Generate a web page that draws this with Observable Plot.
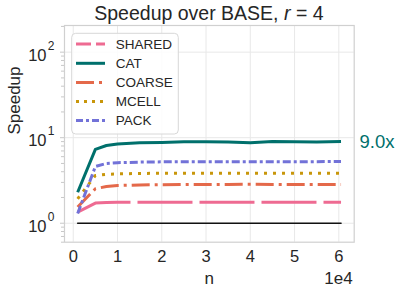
<!DOCTYPE html>
<html>
<head>
<meta charset="utf-8">
<script src="https://cdn.jsdelivr.net/npm/d3@7"></script>
<script src="https://cdn.jsdelivr.net/npm/@observablehq/plot@0.6"></script>
<style>
  html, body { margin: 0; padding: 0; background: #fff; }
  #chart { position: relative; width: 399px; height: 293px; overflow: hidden; }
</style>
</head>
<body>
<div id="chart"></div>
<script>
// ---- data ----
const nValues = [1000, 5000, 7500, 10000, 15000, 20000, 25000, 30000, 35000, 40000, 45000, 50000, 55000, 60500];
const sharedValues = [1.35, 1.72, 1.75, 1.76, 1.76, 1.76, 1.76, 1.76, 1.76, 1.76, 1.76, 1.76, 1.76, 1.76];
const catValues    = [2.3, 7.3, 8.1, 8.45, 8.7, 8.8, 8.95, 8.95, 8.9, 8.7, 9.05, 8.95, 8.9, 9.0];
const coarseValues = [1.55, 2.53, 2.69, 2.76, 2.8, 2.82, 2.84, 2.84, 2.84, 2.85, 2.84, 2.84, 2.84, 2.84];
const mcellValues  = [1.93, 3.62, 3.72, 3.78, 3.82, 3.84, 3.85, 3.85, 3.85, 3.85, 3.85, 3.85, 3.85, 3.85];
const packValues   = [1.3, 4.6, 5.0, 5.1, 5.18, 5.22, 5.25, 5.25, 5.25, 5.25, 5.25, 5.22, 5.25, 5.28];
const baseValues   = [1, 1, 1, 1, 1, 1, 1, 1, 1, 1, 1, 1, 1, 1];

const seriesNames = ["SHARED", "CAT", "COARSE", "MCELL", "PACK"];
const xTicks = [0, 10000, 20000, 30000, 40000, 50000, 60000];
const xTickLabels = ["0", "1", "2", "3", "4", "5", "6"];
const yTicks = [1, 10, 100];
const yExponents = ["0", "1", "2"];
const yMinor = [0.6, 0.7, 0.8, 0.9, 2, 3, 4, 5, 6, 7, 8, 9, 20, 30, 40, 50, 60, 70, 80, 90, 200];
const finalLabel = "9.0x";

// ---- styles ----
const styles = {
  SHARED: {color: "#ee6b92", dash: "55,7", legendDash: "15,5"},
  CAT:    {color: "#00706c", dash: null, legendDash: null},
  COARSE: {color: "#e4694a", dash: "18,5,3,5", legendDash: "18,5,3,5"},
  MCELL:  {color: "#c8960a", dash: "3,6", legendDash: "3,5"},
  PACK:   {color: "#7272d8", dash: "8,3,3,3", legendDash: "7,3,3,3"}
};
const valuesByName = {SHARED: sharedValues, CAT: catValues, COARSE: coarseValues, MCELL: mcellValues, PACK: packValues};
const rows = name => nValues.map((n, i) => ({n, v: valuesByName[name][i]}));
const baseRows = nValues.map((n, i) => ({n, v: baseValues[i]}));

const FONT = "Liberation Sans, Arial, Helvetica, sans-serif";
const TXT = "#262626";

const lineMarks = seriesNames.map(name => Plot.line(rows(name), {
  x: "n", y: "v", stroke: styles[name].color, strokeWidth: 3,
  strokeDasharray: styles[name].dash || undefined,
  strokeLinecap: "butt", strokeLinejoin: "round", curve: "linear"
}));

const catRows = rows("CAT");
const plot = Plot.plot({
  width: 399, height: 293,
  marginLeft: 64, marginRight: 45.3, marginTop: 25, marginBottom: 51.3,
  style: {fontFamily: FONT, color: TXT, background: "white", overflow: "visible"},
  x: {domain: [-1975, 63475]},
  y: {type: "log", domain: [0.6, 205]},
  marks: [
    Plot.gridX({ticks: xTicks, stroke: "#e8e8e8", strokeOpacity: 1, strokeWidth: 1}),
    Plot.gridY({ticks: yTicks, stroke: "#e8e8e8", strokeOpacity: 1, strokeWidth: 1}),
    Plot.axisX({ticks: [], label: null, tickSize: 0}),
    Plot.axisY({ticks: yMinor, tickSize: 3, tickFormat: () => "", label: null, stroke: "#c8c8c8"}),
    Plot.axisY({ticks: yTicks, tickSize: 4, tickFormat: () => "", label: null, stroke: "#c8c8c8"}),
    Plot.frame({stroke: "#d0d0d0", strokeWidth: 1.2}),
    Plot.line(baseRows, {x: "n", y: "v", stroke: "#111", strokeWidth: 1.6}),
    ...lineMarks,
    // y tick labels 10^k
    Plot.text(yTicks, {y: d => d, frameAnchor: "left", text: () => "10", textAnchor: "end",
      lineAnchor: "bottom", dx: -18, dy: 8.7, fontSize: 16.5, fill: TXT, fontFamily: FONT}),
    Plot.text(yTicks, {y: d => d, frameAnchor: "left", text: (d, i) => yExponents[i], textAnchor: "start",
      lineAnchor: "bottom", dx: -16.7, dy: -2.3, fontSize: 12, fill: TXT, fontFamily: FONT}),
    // x tick labels
    Plot.text(xTicks, {x: d => d, frameAnchor: "bottom", text: (d, i) => xTickLabels[i],
      lineAnchor: "bottom", dy: 20, fontSize: 16.5, fill: TXT, fontFamily: FONT}),
    // axis labels
    Plot.text(["n"], {frameAnchor: "bottom", text: d => d, lineAnchor: "bottom", dy: 41.5,
      fontSize: 17, fill: TXT, fontFamily: FONT}),
    Plot.text(["1e4"], {frameAnchor: "bottom-right", text: d => d, lineAnchor: "bottom", textAnchor: "end",
      dy: 41.5, dx: -1.5, fontSize: 17, fill: TXT, fontFamily: FONT}),
    Plot.text(["Speedup"], {frameAnchor: "left", text: d => d, rotate: -90, lineAnchor: "bottom",
      dx: -44.8, dy: 0.7, fontSize: 17, fill: TXT, fontFamily: FONT}),
    // final value annotation
    Plot.text([catRows[catRows.length - 1]], {x: "n", y: "v", text: () => finalLabel, textAnchor: "start",
      lineAnchor: "middle", dx: 18.5, fontSize: 18.5, fill: styles.CAT.color, fontFamily: FONT})
  ]
});

document.getElementById("chart").appendChild(plot);

// ---- title and legend drawn into the same SVG ----
const svg = d3.select(plot);
const title = svg.append("text")
  .attr("x", 208.9).attr("y", 19.5)
  .attr("text-anchor", "middle")
  .attr("font-family", FONT).attr("font-size", 19.5).attr("fill", TXT);
title.append("tspan").text("Speedup over BASE, ");
title.append("tspan").attr("font-style", "italic").text("r");
title.append("tspan").text(" = 4");

const legend = svg.append("g");
legend.append("rect")
  .attr("x", 71.7).attr("y", 33.3).attr("width", 106.6).attr("height", 100.7)
  .attr("rx", 4).attr("ry", 4)
  .attr("fill", "white").attr("fill-opacity", 0.85)
  .attr("stroke", "#d8d8d8").attr("stroke-width", 1);
const rowYs = [44, 63.3, 82.5, 101.5, 120.5];
seriesNames.forEach((name, i) => {
  const y = rowYs[i];
  const ln = legend.append("line")
    .attr("x1", 76).attr("x2", 105).attr("y1", y).attr("y2", y)
    .attr("stroke", styles[name].color).attr("stroke-width", 3)
    .attr("stroke-linecap", "butt");
  if (styles[name].legendDash) ln.attr("stroke-dasharray", styles[name].legendDash);
  legend.append("text")
    .attr("x", 115.7).attr("y", y + 4.8)
    .attr("text-anchor", "start")
    .attr("font-family", FONT).attr("font-size", 13.5).attr("fill", TXT)
    .text(name);
});
</script>
</body>
</html>
